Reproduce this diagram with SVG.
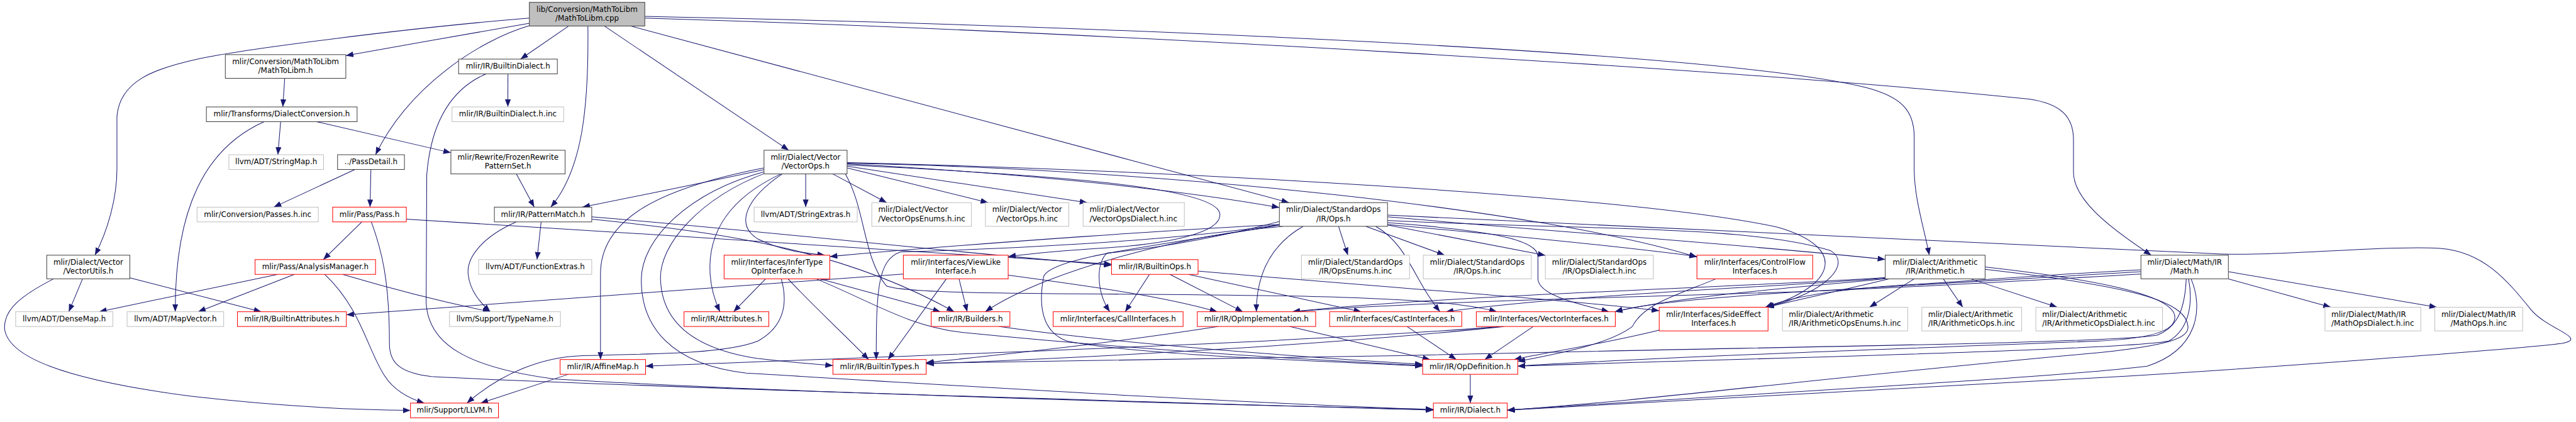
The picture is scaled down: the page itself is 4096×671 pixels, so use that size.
<svg xmlns="http://www.w3.org/2000/svg" width="4096" height="671" viewBox="0 0 4096 671">
<defs>
<style>
.nd rect{fill:#ffffff;stroke-width:1.1}
.d rect{stroke:#404040}
.r rect{stroke:#ff0000}
.g rect{stroke:#bfbfbf}
#node-root rect{fill:#bfbfbf}
text{font-family:"DejaVu Sans","Liberation Sans",sans-serif;font-size:12.9px;fill:#000000}
.c{text-anchor:middle}
.e path{fill:none;stroke:#191970;stroke-width:1.1;marker-end:url(#ah)}
</style>
<marker id="ah" viewBox="0 0 13 10" refX="13" refY="5" markerWidth="13" markerHeight="10" markerUnits="userSpaceOnUse" orient="auto"><path d="M0,0L13,5L0,10z" fill="#191970" stroke="none"/></marker>
</defs>
<rect x="0" y="0" width="4096" height="671" fill="#ffffff"/>
<g transform="scale(0.927)">
<g id="edges" class="e">
<path d="M908,40 C820,55 690,78 593.2,95.5"/>
<path d="M908,31 C700,48 420,84 340,101 C262,118 205,140 200.6,200 L200.6,290 C200.6,340 185,395 162.8,437.7"/>
<path d="M908,44 C820,70 700,150 644.2,265.4"/>
<path d="M975.4,44.6 L892.8,101.4"/>
<path d="M1008.4,44.6 C1010,180 1000,290 944.7,355.3"/>
<path d="M1036.7,44.6 L1352.9,257.7"/>
<path d="M1081.6,44.6 L2211,347.6"/>
<path d="M1106,28 C1900,45 2950,88 3200,150 C3262,166 3283.4,190 3283.4,235 L3283.4,290 C3283.4,340 3300,390 3309.3,437.7"/>
<path d="M1106,31 C1900,55 3000,120 3480,170 C3535,178 3556.6,200 3556.6,240 L3556.6,295 C3556.6,340 3610,385 3690,437.7"/>
<path d="M488.4,134.3 L485.1,183.4"/>
<path d="M481.4,208.7 L476.6,265.4"/>
<path d="M453,208.7 C350,255 300,360 300.6,534.7"/>
<path d="M542.7,208.7 L773.4,262"/>
<path d="M608.8,290.7 L469.6,355.3"/>
<path d="M636.2,290.7 L634.7,355.3"/>
<path d="M620.6,380.6 L554.5,445.3"/>
<path d="M697,376 C1100,400 1500,428 1906.6,453"/>
<path d="M637,380.6 C655,430 668,480 668,590 C668,625 690,640 740,646 C1100,665 2100,693 2458.7,703.5"/>
<path d="M476.6,470.6 L170,534.7"/>
<path d="M505,470.6 L339.8,534.7"/>
<path d="M556.9,470.6 C620,530 630,600 660,645 C675,668 700,683 728,691.4"/>
<path d="M587.5,470.6 C680,498 760,518 841,534.7"/>
<path d="M141.6,478.3 L118,534.7"/>
<path d="M222.7,476.5 L448.3,534.7"/>
<path d="M92,478.3 C40,505 5,530 8,565 C15,610 100,650 330,680 C480,697 600,703 704.1,704"/>
<path d="M871.3,126.7 L871.1,183.4"/>
<path d="M833.8,126.7 C780,150 740,200 732,300 L731,520 C735,590 800,630 950,650 C1300,672 2100,695 2458.7,702"/>
<path d="M885.7,298.4 L916.4,355.3"/>
<path d="M928.2,380.6 L921.1,445.3"/>
<path d="M885.7,380.6 C830,405 800,440 803,470 C806,500 825,520 841,534.7"/>
<path d="M1015,372 C1300,395 1600,430 1906.6,455"/>
<path d="M1015,376 C1250,400 1450,430 1636.7,534.7"/>
<path d="M1310.5,288 C1120,325 1030,380 1030,470 L1030,616.7"/>
<path d="M1310.5,291 C1200,315 1100,335 999,355.3"/>
<path d="M1315,296 C1200,340 1130,420 1133,480 C1136,560 1200,600 1300,615 C1360,622 1400,625 1428.7,627"/>
<path d="M1313,294 C1180,330 1100,410 1100,480 C1100,560 1150,625 1280,640 C1700,665 2100,690 2458.7,702.5"/>
<path d="M1339.3,298.4 C1230,350 1215,420 1218,470 C1220,500 1228,520 1235,534.7"/>
<path d="M1341.7,298.4 C1280,340 1260,385 1300,410 C1340,430 1380,434 1415,437.7"/>
<path d="M1382,298.4 L1382,355.3"/>
<path d="M1428.5,298.4 L1521,347.6"/>
<path d="M1453,288 L1695,347.6"/>
<path d="M1453,285 L1865,347.6"/>
<path d="M1453,281 C1800,300 2050,330 2194.5,356"/>
<path d="M1453,283 C1800,300 2080,320 2092,365 C2100,400 2000,418 1900,425 C1820,430 1760,436 1729.3,440"/>
<path d="M1453,279 C2000,292 2800,335 3050,390 C3170,425 3150,490 3030,527"/>
<path d="M1453,280 C2000,290 2650,360 2910.7,441"/>
<path d="M1450,298.4 C1485,360 1480,440 1520,490 C1560,510 2000,500 2300,510 C2450,515 2520,522 2567.5,534.7"/>
<path d="M2296,388.3 L2312,437.7"/>
<path d="M2343,388.3 L2478,437.7"/>
<path d="M2380,386 L2650.7,438"/>
<path d="M2380,372 C2700,400 3000,420 3233.7,445"/>
<path d="M2380,385 C2600,405 2800,425 2910.7,440"/>
<path d="M2380,378 C2700,395 3000,385 3140,430 C3175,450 3140,500 3030,527"/>
<path d="M2200,388.3 C2050,400 1800,460 1690,534.7"/>
<path d="M2196,385 C2000,415 1700,428 1545,432 C1505,445 1503,500 1503,616.7"/>
<path d="M2235,388.3 C2180,420 2155,470 2155,534.7"/>
<path d="M2360,388.3 C2415,420 2425,480 2470,534.7"/>
<path d="M2380,382 C2550,395 2638,410 2638,440 L2638,478 C2638,505 2700,520 2760,534.7"/>
<path d="M2194.5,385 C2050,392 1700,415 1423.3,440"/>
<path d="M2194.5,380 C2120,400 2000,425 1899,434 C1880,450 1880,500 1903.6,534.7"/>
<path d="M2194.5,386 C2000,420 1800,440 1790,475 C1780,530 1790,570 1830,585 C1950,610 2300,620 2440.3,628"/>
<path d="M2380,369 C2900,392 3400,415 3796,435 C3900,441 4100,420 4186,426 C4260,432 4300,480 4342,532 C4370,565 4440,580 4395,589 C4300,600 3900,630 3650,645 C3200,672 2800,695 2585.3,703.5"/>
<path d="M1971.7,470.6 L1930,534.7"/>
<path d="M2006.7,470.6 L2131.7,534.7"/>
<path d="M2038.3,470.6 L2335,534.7"/>
<path d="M2055,465 C2400,495 2700,515 2846,533"/>
<path d="M1313.3,478.3 L1258.3,534.7"/>
<path d="M1340,478.3 C1352,520 1345,560 1300,585 C1250,605 1150,607 1000,610 C930,612 860,640 800.8,691.4"/>
<path d="M1351.7,478.3 C1400,530 1450,575 1490,616.7"/>
<path d="M1406.7,478.3 L1613.3,534.7"/>
<path d="M1400,478.3 C1500,520 1560,560 1650,570 C1900,595 2200,615 2440.3,627"/>
<path d="M1645,478.3 L1659,534.7"/>
<path d="M1623.3,478.3 L1523.3,616.7"/>
<path d="M1549.5,470 C1200,495 800,525 594.1,540"/>
<path d="M1729.3,472 C1900,495 2000,510 2088,534.7"/>
<path d="M1713,560 C1900,587 2200,610 2440.3,625"/>
<path d="M2090,560 C1900,590 1700,610 1588.7,622"/>
<path d="M2211.7,560 C2300,580 2380,600 2453,616.7"/>
<path d="M2413.3,560 L2498,616.7"/>
<path d="M2630,560 L2546.7,616.7"/>
<path d="M2580,560 C2300,590 1900,612 1588.7,624"/>
<path d="M2575,560 C2200,590 1500,612 1107.3,628"/>
<path d="M2846.7,566 C2750,590 2650,605 2597,616.7"/>
<path d="M2943.3,478.3 C2880,505 2820,520 2800,560 C2760,590 2680,605 2603.3,620"/>
<path d="M2522,642 L2522,691.4"/>
<path d="M975,642 L824.4,691.4"/>
<path d="M3283.3,478.3 L3206.7,527"/>
<path d="M3333.3,478.3 L3366.7,527"/>
<path d="M3380,478.3 L3528.8,527"/>
<path d="M3240,478.3 C3150,500 3080,515 3030,527"/>
<path d="M3236,476 C2950,495 2500,505 2216.7,534.7"/>
<path d="M3236,477 C3000,495 2700,505 2480,534.7"/>
<path d="M3236,478 C3100,492 2900,505 2770,534.7"/>
<path d="M3405,458 C3600,480 3720,505 3730,540 C3735,565 3700,580 3600,585 C3200,600 2800,615 2603.3,628"/>
<path d="M3405,462 C3650,490 3750,515 3753,560 C3755,580 3720,592 3600,605 C3200,640 2800,690 2585.3,703.5"/>
<path d="M3822.3,478.3 L3998,527"/>
<path d="M3822.3,466 L4180,527"/>
<path d="M3672.3,462.7 C3500,472 3380,482 3250,490 C3150,497 3070,510 3028,527"/>
<path d="M3672.3,466 C3450,480 3300,488 3150,497 C2950,508 2820,520 2770,534.7"/>
<path d="M3672.3,470 C3450,483 3300,492 3100,500 C2700,512 2400,520 2216.7,534.7"/>
<path d="M3750,478.3 C3748,520 3740,560 3700,575 C3600,590 3000,595 2400,610 C2000,618 1700,621 1588.7,623"/>
<path d="M3754,478.3 C3762,520 3755,565 3720,585 C3650,600 3000,615 2603.3,628"/>
<path d="M3758.3,478.3 C3780,530 3770,600 3683,628 C3500,650 3000,675 2585.3,703.5"/>
</g>
<g id="node-root" class="nd d"><rect x="908" y="4" width="198" height="40.6"/><text class="c" x="1007" y="20.3">lib/Conversion/MathToLibm</text><text class="c" x="1007" y="35.7">/MathToLibm.cpp</text></g>
<g id="node-mathtolibm-h" class="nd d"><rect x="386.5" y="93.7" width="206.7" height="40.6"/><text class="c" x="489.85" y="110">mlir/Conversion/MathToLibm</text><text class="c" x="489.85" y="125.4">/MathToLibm.h</text></g>
<g id="node-builtindialect" class="nd d"><rect x="786.6" y="101.4" width="169.4" height="25.3"/><text class="c" x="871.3" y="118">mlir/IR/BuiltinDialect.h</text></g>
<g id="node-dialectconversion" class="nd d"><rect x="354" y="183.4" width="258.5" height="25.3"/><text class="c" x="483.25" y="200">mlir/Transforms/DialectConversion.h</text></g>
<g id="node-builtindialect-inc" class="nd g"><rect x="775.3" y="183.4" width="191.6" height="25.3"/><text class="c" x="871.1" y="200">mlir/IR/BuiltinDialect.h.inc</text></g>
<g id="node-stringmap" class="nd g"><rect x="392.6" y="265.4" width="162.4" height="25.3"/><text class="c" x="473.8" y="282">llvm/ADT/StringMap.h</text></g>
<g id="node-passdetail" class="nd d"><rect x="579" y="265.4" width="114.7" height="25.3"/><text class="c" x="636.35" y="282">../PassDetail.h</text></g>
<g id="node-frozenrewrite" class="nd d"><rect x="773.4" y="257.7" width="195.9" height="40.6"/><text class="c" x="871.35" y="274">mlir/Rewrite/FrozenRewrite</text><text class="c" x="871.35" y="289.4">PatternSet.h</text></g>
<g id="node-vectorops" class="nd d"><rect x="1310.5" y="257.7" width="142.5" height="40.6"/><text class="c" x="1381.75" y="274">mlir/Dialect/Vector</text><text class="c" x="1381.75" y="289.4">/VectorOps.h</text></g>
<g id="node-passes-inc" class="nd g"><rect x="338" y="355.3" width="208" height="25.3"/><text class="c" x="442" y="371.9">mlir/Conversion/Passes.h.inc</text></g>
<g id="node-pass" class="nd r"><rect x="570.6" y="355.3" width="126.4" height="25.3"/><text class="c" x="633.8" y="371.9">mlir/Pass/Pass.h</text></g>
<g id="node-patternmatch" class="nd d"><rect x="848" y="355.3" width="167" height="25.3"/><text class="c" x="931.5" y="371.9">mlir/IR/PatternMatch.h</text></g>
<g id="node-stringextras" class="nd g"><rect x="1293.5" y="355.3" width="176.9" height="25.3"/><text class="c" x="1381.95" y="371.9">llvm/ADT/StringExtras.h</text></g>
<g id="node-vectoropsenums-inc" class="nd g"><rect x="1495.4" y="347.6" width="170.8" height="40.6"/><text x="1506.4" y="363.9">mlir/Dialect/Vector</text><text x="1506.4" y="379.3">/VectorOpsEnums.h.inc</text></g>
<g id="node-vectorops-inc" class="nd g"><rect x="1690.3" y="347.6" width="143" height="40.6"/><text class="c" x="1761.8" y="363.9">mlir/Dialect/Vector</text><text class="c" x="1761.8" y="379.3">/VectorOps.h.inc</text></g>
<g id="node-vectoropsdialect-inc" class="nd g"><rect x="1857.8" y="347.6" width="173.7" height="40.6"/><text x="1868.8" y="363.9">mlir/Dialect/Vector</text><text x="1868.8" y="379.3">/VectorOpsDialect.h.inc</text></g>
<g id="node-stdops" class="nd d"><rect x="2194.5" y="347.6" width="185.5" height="40.6"/><text class="c" x="2287.25" y="363.9">mlir/Dialect/StandardOps</text><text class="c" x="2287.25" y="379.3">/IR/Ops.h</text></g>
<g id="node-vectorutils" class="nd d"><rect x="80.2" y="437.7" width="142.5" height="40.6"/><text class="c" x="151.45" y="454">mlir/Dialect/Vector</text><text class="c" x="151.45" y="469.4">/VectorUtils.h</text></g>
<g id="node-analysismanager" class="nd r"><rect x="437.5" y="445.3" width="206.7" height="25.3"/><text class="c" x="540.85" y="461.9">mlir/Pass/AnalysisManager.h</text></g>
<g id="node-functionextras" class="nd g"><rect x="821" y="445.3" width="194" height="25.3"/><text class="c" x="918" y="461.9">llvm/ADT/FunctionExtras.h</text></g>
<g id="node-infertype" class="nd r"><rect x="1242" y="437.7" width="181.3" height="40.6"/><text class="c" x="1332.65" y="454">mlir/Interfaces/InferType</text><text class="c" x="1332.65" y="469.4">OpInterface.h</text></g>
<g id="node-viewlike" class="nd r"><rect x="1549.5" y="437.7" width="179.8" height="40.6"/><text class="c" x="1639.4" y="454">mlir/Interfaces/ViewLike</text><text class="c" x="1639.4" y="469.4">Interface.h</text></g>
<g id="node-builtinops" class="nd r"><rect x="1906.6" y="445.3" width="148.4" height="25.3"/><text class="c" x="1980.8" y="461.9">mlir/IR/BuiltinOps.h</text></g>
<g id="node-opsenums-inc" class="nd g"><rect x="2232.3" y="437.7" width="185.4" height="40.6"/><text class="c" x="2325" y="454">mlir/Dialect/StandardOps</text><text class="c" x="2325" y="469.4">/IR/OpsEnums.h.inc</text></g>
<g id="node-ops-inc" class="nd g"><rect x="2441.3" y="437.7" width="185.4" height="40.6"/><text class="c" x="2534" y="454">mlir/Dialect/StandardOps</text><text class="c" x="2534" y="469.4">/IR/Ops.h.inc</text></g>
<g id="node-opsdialect-inc" class="nd g"><rect x="2650.7" y="437.7" width="185.3" height="40.6"/><text class="c" x="2743.35" y="454">mlir/Dialect/StandardOps</text><text class="c" x="2743.35" y="469.4">/IR/OpsDialect.h.inc</text></g>
<g id="node-controlflow" class="nd r"><rect x="2910.7" y="437.7" width="198.6" height="40.6"/><text class="c" x="3010" y="454">mlir/Interfaces/ControlFlow</text><text class="c" x="3010" y="469.4">Interfaces.h</text></g>
<g id="node-arithmetic" class="nd d"><rect x="3233.7" y="437.7" width="171.3" height="40.6"/><text class="c" x="3319.35" y="454">mlir/Dialect/Arithmetic</text><text class="c" x="3319.35" y="469.4">/IR/Arithmetic.h</text></g>
<g id="node-math" class="nd d"><rect x="3672.3" y="437.7" width="150" height="40.6"/><text class="c" x="3747.3" y="454">mlir/Dialect/Math/IR</text><text class="c" x="3747.3" y="469.4">/Math.h</text></g>
<g id="node-densemap" class="nd g"><rect x="26.9" y="534.7" width="166.6" height="25.3"/><text class="c" x="110.2" y="551.3">llvm/ADT/DenseMap.h</text></g>
<g id="node-mapvector" class="nd g"><rect x="218" y="534.7" width="165.7" height="25.3"/><text class="c" x="300.85" y="551.3">llvm/ADT/MapVector.h</text></g>
<g id="node-builtinattributes" class="nd r"><rect x="407.3" y="534.7" width="186.8" height="25.3"/><text class="c" x="500.7" y="551.3">mlir/IR/BuiltinAttributes.h</text></g>
<g id="node-typename" class="nd g"><rect x="771" y="534.7" width="190.3" height="25.3"/><text class="c" x="866.15" y="551.3">llvm/Support/TypeName.h</text></g>
<g id="node-attributes" class="nd r"><rect x="1173.3" y="534.7" width="145.4" height="25.3"/><text class="c" x="1246" y="551.3">mlir/IR/Attributes.h</text></g>
<g id="node-builders" class="nd r"><rect x="1597.3" y="534.7" width="135" height="25.3"/><text class="c" x="1664.8" y="551.3">mlir/IR/Builders.h</text></g>
<g id="node-callinterfaces" class="nd r"><rect x="1806.4" y="534.7" width="222.9" height="25.3"/><text class="c" x="1917.85" y="551.3">mlir/Interfaces/CallInterfaces.h</text></g>
<g id="node-opimplementation" class="nd r"><rect x="2053.7" y="534.7" width="203" height="25.3"/><text class="c" x="2155.2" y="551.3">mlir/IR/OpImplementation.h</text></g>
<g id="node-castinterfaces" class="nd r"><rect x="2280.7" y="534.7" width="226.6" height="25.3"/><text class="c" x="2394" y="551.3">mlir/Interfaces/CastInterfaces.h</text></g>
<g id="node-vectorinterfaces" class="nd r"><rect x="2532.3" y="534.7" width="238.4" height="25.3"/><text class="c" x="2651.5" y="551.3">mlir/Interfaces/VectorInterfaces.h</text></g>
<g id="node-sideeffect" class="nd r"><rect x="2846" y="527" width="186.7" height="40.6"/><text class="c" x="2939.35" y="543.3">mlir/Interfaces/SideEffect</text><text class="c" x="2939.35" y="558.7">Interfaces.h</text></g>
<g id="node-arithopsenums-inc" class="nd g"><rect x="3057.3" y="527" width="215" height="40.6"/><text x="3068.3" y="543.3">mlir/Dialect/Arithmetic</text><text x="3068.3" y="558.7">/IR/ArithmeticOpsEnums.h.inc</text></g>
<g id="node-arithops-inc" class="nd g"><rect x="3296.5" y="527" width="171.2" height="40.6"/><text x="3307.5" y="543.3">mlir/Dialect/Arithmetic</text><text x="3307.5" y="558.7">/IR/ArithmeticOps.h.inc</text></g>
<g id="node-arithopsdialect-inc" class="nd g"><rect x="3492" y="527" width="217.3" height="40.6"/><text x="3503" y="543.3">mlir/Dialect/Arithmetic</text><text x="3503" y="558.7">/IR/ArithmeticOpsDialect.h.inc</text></g>
<g id="node-mathopsdialect-inc" class="nd g"><rect x="3988" y="527" width="164.4" height="40.6"/><text x="3999" y="543.3">mlir/Dialect/Math/IR</text><text x="3999" y="558.7">/MathOpsDialect.h.inc</text></g>
<g id="node-mathops-inc" class="nd g"><rect x="4176.3" y="527" width="150.7" height="40.6"/><text class="c" x="4251.65" y="543.3">mlir/Dialect/Math/IR</text><text class="c" x="4251.65" y="558.7">/MathOps.h.inc</text></g>
<g id="node-affinemap" class="nd r"><rect x="960.7" y="616.7" width="146.6" height="25.3"/><text class="c" x="1034" y="633.3">mlir/IR/AffineMap.h</text></g>
<g id="node-builtintypes" class="nd r"><rect x="1428.7" y="616.7" width="160" height="25.3"/><text class="c" x="1508.7" y="633.3">mlir/IR/BuiltinTypes.h</text></g>
<g id="node-opdefinition" class="nd r"><rect x="2440.3" y="616.7" width="163" height="25.3"/><text class="c" x="2521.8" y="633.3">mlir/IR/OpDefinition.h</text></g>
<g id="node-llvm" class="nd r"><rect x="704.1" y="691.4" width="150.9" height="25.3"/><text class="c" x="779.55" y="708">mlir/Support/LLVM.h</text></g>
<g id="node-dialect" class="nd r"><rect x="2458.7" y="691.4" width="126.6" height="25.3"/><text class="c" x="2522" y="708">mlir/IR/Dialect.h</text></g>
</g>
</svg>
